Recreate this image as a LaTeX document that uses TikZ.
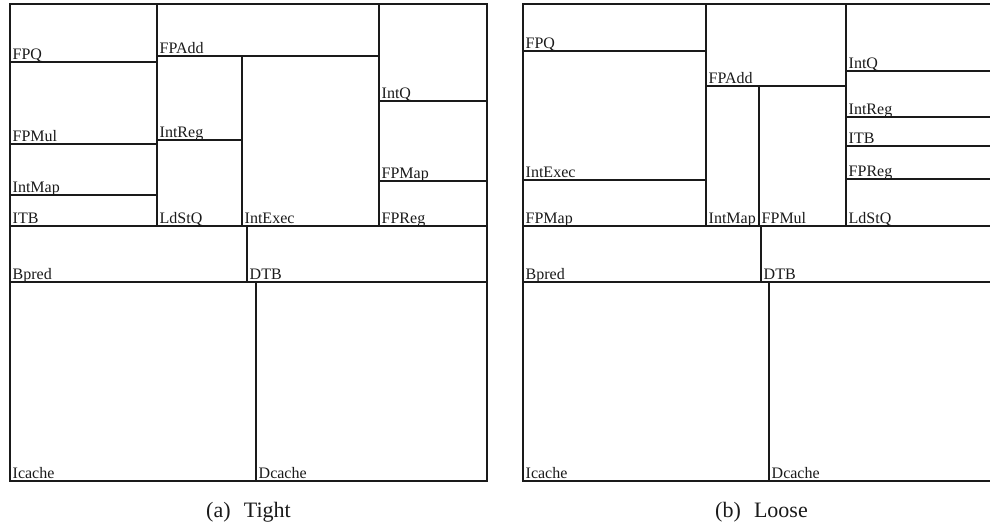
\documentclass[tikz,border=0pt]{standalone}
\usepackage{fontspec}
\setmainfont{Liberation Serif}
\usepackage{xcolor}
\definecolor{ink}{HTML}{1A1A1A}

\begin{document}
\begin{tikzpicture}[x=1pt, y=-1pt]
  % one unit = one pixel of the 990x527 sheet, y runs downward
  \clip (0,0) rectangle (990,527);
  \tikzset{
    unit/.style={draw=ink, line width=1.3pt},
    unitname/.style={anchor=base west, inner sep=0pt, text=ink,
                     font=\fontsize{16}{18}\selectfont},
    subcap/.style={anchor=base, inner sep=0pt, text=ink,
                   font=\fontsize{22}{26}\selectfont}}
  % #1 node name, (#2,#3) top left, (#4,#5) bottom right, #6 label
  \newcommand{\blk}[6]{%
    \draw[unit] (#2,#3) rectangle (#4,#5);
    \node[unitname] (#1) at ({#2+2.5},{#5-2.5}) {#6};}

  % ========== (a) Tight ==================================================
  \blk{aFPQ}    {10}{4}  {157}{62}  {FPQ}
  \blk{aFPMul}  {10}{62} {157}{144} {FPMul}
  \blk{aIntMap} {10}{144}{157}{195} {IntMap}
  \blk{aITB}    {10}{195}{157}{226} {ITB}
  \blk{aFPAdd}  {157}{4} {379}{56}  {FPAdd}
  \blk{aIntReg} {157}{56}{242}{140} {IntReg}
  \blk{aLdStQ}  {157}{140}{242}{226}{LdStQ}
  \blk{aIntExec}{242}{56}{379}{226} {IntExec}
  \blk{aIntQ}   {379}{4} {487}{101} {IntQ}
  \blk{aFPMap}  {379}{101}{487}{181}{FPMap}
  \blk{aFPReg}  {379}{181}{487}{226}{FPReg}
  % the caches and predictors along the bottom
  \blk{aBpred}  {10}{226}{247}{282} {Bpred}
  \blk{aDTB}    {247}{226}{487}{282}{DTB}
  \blk{aIcache} {10}{282}{256}{481} {Icache}
  \blk{aDcache} {256}{282}{487}{481}{Dcache}
  \node[subcap] (capA) at (248.5,517) {(a)\hspace{0.6em}Tight};

  % ========== (b) Loose -- runs off the right edge of the sheet ==========
  \blk{bFPQ}    {523}{4}  {706}{51}  {FPQ}
  \blk{bIntExec}{523}{51} {706}{180} {IntExec}
  \blk{bFPMap}  {523}{180}{706}{226} {FPMap}
  \blk{bFPAdd}  {706}{4}  {846}{86}  {FPAdd}
  \blk{bIntMap} {706}{86} {759}{226} {IntMap}
  \blk{bFPMul}  {759}{86} {846}{226} {FPMul}
  \blk{bIntQ}   {846}{4}  {1000}{71} {IntQ}
  \blk{bIntReg} {846}{71} {1000}{117}{IntReg}
  \blk{bITB}    {846}{117}{1000}{146}{ITB}
  \blk{bFPReg}  {846}{146}{1000}{179}{FPReg}
  \blk{bLdStQ}  {846}{179}{1000}{226}{LdStQ}
  \blk{bBpred}  {523}{226}{761}{282} {Bpred}
  \blk{bDTB}    {761}{226}{1000}{282}{DTB}
  \blk{bIcache} {523}{282}{769}{481} {Icache}
  \blk{bDcache} {769}{282}{1000}{481}{Dcache}
  \node[subcap] (capB) at (761.5,517) {(b)\hspace{0.6em}Loose};
\end{tikzpicture}
\end{document}
